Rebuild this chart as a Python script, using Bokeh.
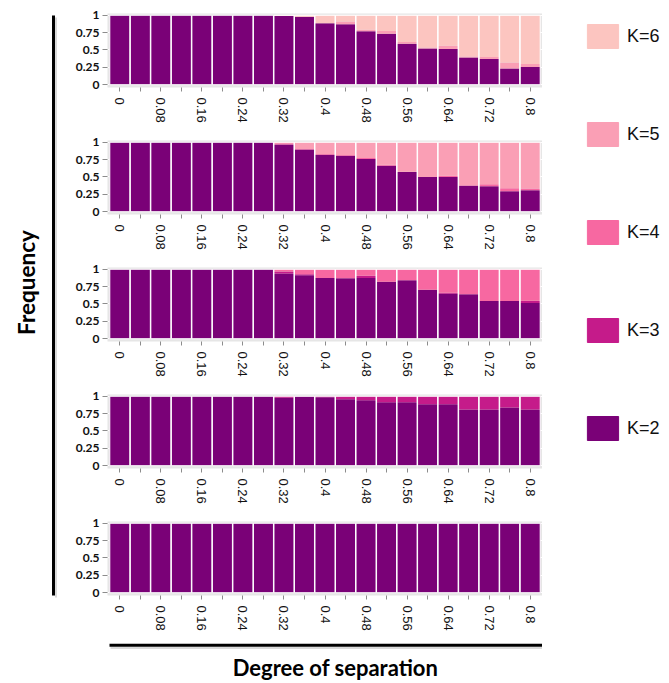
import math
from bokeh.plotting import figure
from bokeh.layouts import row, column
from bokeh.models import (ColumnDataSource, Range1d, FixedTicker, CustomJSTickFormatter,
                          Label, Legend, LegendItem)
from bokeh.embed import file_html
from bokeh.resources import INLINE

# ---------------- data ----------------
SEPARATION = [0.0, 0.04, 0.08, 0.12, 0.16, 0.2, 0.24, 0.28, 0.32, 0.36, 0.4,
              0.44, 0.48, 0.52, 0.56, 0.6, 0.64, 0.68, 0.72, 0.76, 0.8]
X_TICKS = [0.0, 0.08, 0.16, 0.24, 0.32, 0.4, 0.48, 0.56, 0.64, 0.72, 0.8]
X_TICK_LABELS = ["0", "0.08", "0.16", "0.24", "0.32", "0.4", "0.48", "0.56", "0.64", "0.72", "0.8"]
X_MINOR_TICKS = [0.04, 0.12, 0.2, 0.28, 0.36, 0.44, 0.52, 0.6, 0.68, 0.76]
Y_TICKS = [0.0, 0.25, 0.5, 0.75, 1.0]
Y_TICK_LABELS = ["0", "0.25", "0.5", "0.75", "1"]

LEGEND_LABELS = ["K=6", "K=5", "K=4", "K=3", "K=2"]
COLORS = {"K=2": "#7a0177", "K=3": "#c51b8a", "K=4": "#f768a1",
          "K=5": "#fa9fb5", "K=6": "#fcc5c0"}

# true K = 6 panel
K6_K2 = [1, 1, 1, 1, 1, 1, 1, 1, 0.99, 0.975, 0.886, 0.871, 0.77, 0.733, 0.59, 0.52, 0.515, 0.39, 0.37, 0.235, 0.255]
K6_K5 = [0, 0, 0, 0, 0, 0, 0, 0, 0, 0.005, 0, 0.04, 0.02, 0.04, 0.025, 0.015, 0.045, 0.015, 0.03, 0.085, 0.045]
K6_K6 = [0, 0, 0, 0, 0, 0, 0, 0, 0.01, 0.02, 0.114, 0.089, 0.21, 0.227, 0.385, 0.465, 0.44, 0.595, 0.6, 0.68, 0.7]
# true K = 5 panel
K5_K2 = [1, 1, 1, 1, 1, 1, 1, 1, 0.966, 0.894, 0.821, 0.807, 0.758, 0.662, 0.57, 0.498, 0.498, 0.372, 0.367, 0.295, 0.309]
K5_K4 = [0, 0, 0, 0, 0, 0, 0, 0, 0.02, 0.01, 0.01, 0.01, 0.015, 0.015, 0.005, 0, 0.02, 0.01, 0.03, 0.043, 0.024]
K5_K5 = [0, 0, 0, 0, 0, 0, 0, 0, 0.014, 0.096, 0.169, 0.183, 0.227, 0.323, 0.425, 0.502, 0.482, 0.618, 0.603, 0.662, 0.667]
# true K = 4 panel
K4_K2 = [1, 1, 1, 1, 1, 1, 1, 1, 0.937, 0.913, 0.874, 0.869, 0.874, 0.82, 0.84, 0.704, 0.646, 0.641, 0.544, 0.544, 0.515]
K4_K3 = [0, 0, 0, 0, 0, 0, 0, 0, 0.03, 0.015, 0, 0, 0.034, 0, 0, 0, 0.015, 0, 0, 0, 0.03]
K4_K4 = [0, 0, 0, 0, 0, 0, 0, 0, 0.033, 0.072, 0.126, 0.131, 0.092, 0.18, 0.16, 0.296, 0.339, 0.359, 0.456, 0.456, 0.455]
# true K = 3 panel
K3_K2 = [1, 1, 1, 1, 1, 1, 1, 1, 0.98, 0.995, 0.986, 0.957, 0.942, 0.913, 0.913, 0.885, 0.885, 0.808, 0.808, 0.837, 0.808]
K3_K3 = [0, 0, 0, 0, 0, 0, 0, 0, 0.02, 0.005, 0.014, 0.043, 0.058, 0.087, 0.087, 0.115, 0.115, 0.192, 0.192, 0.163, 0.192]
# true K = 2 panel
K2_K2 = [1, 1, 1, 1, 1, 1, 1, 1, 1, 1, 1, 1, 1, 1, 1, 1, 1, 1, 1, 1, 1]

PANELS = [
    (["K=2", "K=5", "K=6"], [K6_K2, K6_K5, K6_K6]),
    (["K=2", "K=4", "K=5"], [K5_K2, K5_K4, K5_K5]),
    (["K=2", "K=3", "K=4"], [K4_K2, K4_K3, K4_K4]),
    (["K=2", "K=3"], [K3_K2, K3_K3]),
    (["K=2"], [K2_K2]),
]

FMT_CODE = """
let best = -1, err = 1e-6;
for (let i = 0; i < vals.length; i++) {
  const e = Math.abs(vals[i] - tick);
  if (e < err) { err = e; best = i; }
}
return best >= 0 ? labels[best] : "";
"""

BAR_W = 0.039
PAGE_H = 682


def make_panel(names, series):
    data = {"sep": SEPARATION}
    for n, s in zip(names, series):
        data[n] = s
    data["total"] = [sum(v) for v in zip(*series)]
    src = ColumnDataSource(data)
    p = figure(width=485, height=127, x_range=Range1d(-0.024, 0.824),
               y_range=Range1d(-0.04, 1.025), output_backend="svg",
               toolbar_location=None, min_border_left=50, min_border_right=0,
               min_border_top=13, min_border_bottom=40,
               background_fill_color="#e6e6e6", border_fill_color="white",
               outline_line_color=None)
    p.vbar_stack(names, x="sep", width=BAR_W, color=[COLORS[n] for n in names],
                 line_color=None, source=src)
    p.vbar(x="sep", bottom=0, top="total", width=BAR_W, fill_color=None,
           line_color="white", line_width=1, source=src)
    p.xgrid.visible = False
    p.ygrid.grid_line_color = "white"
    p.ygrid.ticker = FixedTicker(ticks=Y_TICKS)

    xa = p.xaxis[0]
    xa.ticker = FixedTicker(ticks=X_TICKS, minor_ticks=X_MINOR_TICKS)
    xa.formatter = CustomJSTickFormatter(args=dict(vals=X_TICKS, labels=X_TICK_LABELS), code=FMT_CODE)
    xa.major_label_orientation = "vertical"
    xa.axis_line_color = None
    xa.major_tick_in = 0
    xa.major_tick_out = 4
    xa.minor_tick_in = 0
    xa.minor_tick_out = 4
    xa.major_tick_line_color = "#8c8c8c"
    xa.minor_tick_line_color = "#8c8c8c"
    xa.major_label_standoff = 6
    xa.major_label_text_font = "Liberation Sans"
    xa.major_label_text_font_size = "13px"
    xa.major_label_text_color = "#111111"

    ya = p.yaxis[0]
    ya.ticker = FixedTicker(ticks=Y_TICKS, minor_ticks=[])
    ya.formatter = CustomJSTickFormatter(args=dict(vals=Y_TICKS, labels=Y_TICK_LABELS), code=FMT_CODE)
    ya.axis_line_color = None
    ya.major_tick_in = 0
    ya.major_tick_out = 5
    ya.major_tick_line_color = "#8c8c8c"
    ya.major_label_standoff = 3
    ya.major_label_text_font = "Lato"
    ya.major_label_text_font_style = "bold"
    ya.major_label_text_font_size = "12px"
    ya.major_label_text_color = "#111111"
    return p


panels = [make_panel(n, s) for n, s in PANELS]


def deco_fig(width, height, x0, x1, y0, y1, border_left=0):
    f = figure(width=width, height=height, x_range=Range1d(x0, x1),
               y_range=Range1d(y1, y0), x_axis_type=None, y_axis_type=None,
               output_backend="svg", toolbar_location=None,
               min_border=0, min_border_left=border_left, min_border_right=0,
               min_border_top=0, min_border_bottom=0,
               outline_line_color=None, border_fill_color="white",
               background_fill_color="white")
    return f


# left strip: y axis title + bracket line (page coordinates)
left = deco_fig(57, PAGE_H, 0, 57, 0, PAGE_H)
left.line([55.5, 55.5], [17, 597], line_width=2, color="#dadada")
left.line([53, 53], [15, 595], line_width=3, color="black")
left.add_layout(Label(x=26, y=282, text="Frequency", angle=math.pi / 2,
                      text_align="center", text_baseline="middle",
                      text_font="Lato", text_font_style="bold",
                      text_font_size="22.5px", text_color="black"))

# bottom strip: x axis title + bracket line (frame aligned with the panels)
bottom = deco_fig(485, PAGE_H - 635, 107, 542, 635, PAGE_H, border_left=50)
bottom.line([110, 542], [647.5, 647.5], line_width=2, color="#dadada")
bottom.line([109, 541.7], [644.8, 644.8], line_width=3, color="black")
bottom.add_layout(Label(x=335, y=PAGE_H - 2, text="Degree of separation",
                        text_align="center", text_baseline="bottom",
                        text_font="Lato", text_font_style="bold",
                        text_font_size="22px", text_color="black"))

# right strip: legend
right = deco_fig(126, PAGE_H, 542, 668, 0, PAGE_H)
items = []
for lab in LEGEND_LABELS:
    # placeholder swatch renderer, kept outside the visible range
    r = right.quad(left=[0], right=[1], top=[-20], bottom=[-10],
                   fill_color=COLORS[lab], line_color=COLORS[lab])
    items.append(LegendItem(label=lab, renderers=[r]))
legend = Legend(items=items, location=(41, PAGE_H - 443), glyph_width=39, glyph_height=30,
                label_height=30, spacing=68, padding=0, margin=0, label_standoff=5,
                label_text_font="Liberation Sans", label_text_font_size="18px",
                label_text_color="#111111", border_line_color=None,
                background_fill_alpha=0)
right.add_layout(legend)

layout = row(left, column(*panels, bottom), right)

open("out.html", "w").write(file_html(layout, INLINE))
